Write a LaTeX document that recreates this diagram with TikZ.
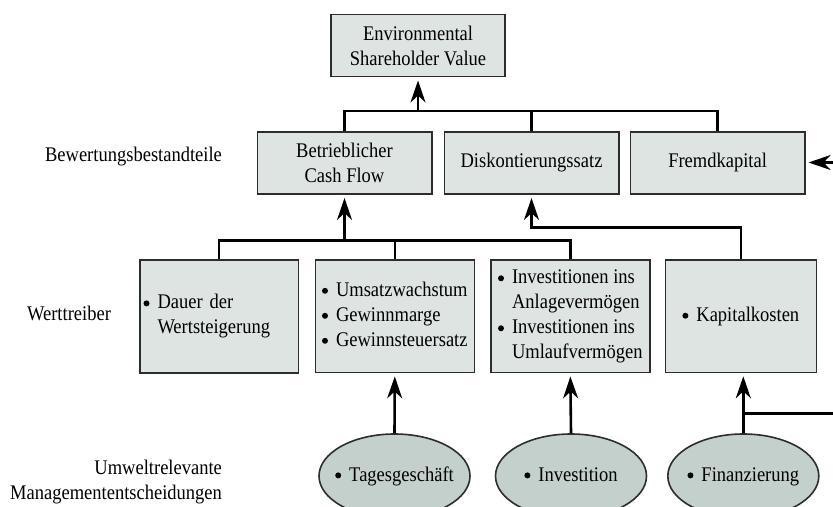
\documentclass[tikz,border=0pt]{standalone}
\usepackage{fontspec}
\setmainfont{Liberation Serif}[FakeStretch=0.89]
\usetikzlibrary{arrows.meta,shapes.geometric}
\definecolor{boxfill}{RGB}{222,228,225}
\definecolor{ovalfill}{RGB}{195,208,204}
\definecolor{boxedge}{RGB}{45,45,45}
\newcommand{\bul}{\tikz[baseline=-2.8pt]\fill (0,0) circle (1.5pt);}
\newcommand{\bulletlist}[1]{\begin{tabular}{@{}l@{\hspace{4pt}}l@{}}#1\end{tabular}}
\begin{document}
\begin{tikzpicture}[x=0.5pt,y=-0.5pt,font=\fontsize{10.4}{12.5}\selectfont,
    valuebox/.style={rectangle,draw=boxedge,line width=0.8pt,fill=boxfill,inner sep=1.9pt,align=center},
    rowtwo/.style={valuebox,minimum width=87.2pt,minimum height=31.2pt},
    driverbox/.style={valuebox,minimum width=79.5pt,minimum height=56.2pt},
    decisionoval/.style={ellipse,draw=boxedge,line width=0.8pt,fill=ovalfill,inner sep=0pt,minimum width=75.5pt,minimum height=42pt},
    conn/.style={line width=1.3pt,black},
    connarrow/.style={conn,-{Stealth[length=11pt,width=7.5pt,inset=3.5pt]},shorten >=1.5pt}]
    \useasboundingbox (0,0) rectangle (833,507);

    % --- Top ---
    \node[valuebox,minimum width=87pt,minimum height=31pt] (esv) at (418,45.7) {Environmental\\Shareholder Value};

    % --- Row 1: Bewertungsbestandteile ---
    \node[anchor=east] (lblvalue) at (229,157) {Bewertungsbestandteile};
    \node[rowtwo] (bcf) at (344.5,163) {Betrieblicher\\Cash Flow};
    \node[rowtwo] (disk) at (531.5,163) {Diskontierungssatz};
    \node[rowtwo] (fremd) at (717.6,163) {Fremdkapital};

    % --- Row 2: Werttreiber ---
    \node[anchor=east] (lbldriver) at (118,313) {Werttreiber};
    \node[driverbox,minimum width=79.3pt,text width=75.5pt,align=left] (dauer) at (219,316.5)
      {\bulletlist{\bul & Dauer der\\ & Wertsteigerung}};
    \node[driverbox] (umsatz) at (394.8,316.4)
      {\bulletlist{\bul & Umsatzwachstum\\ \bul & Gewinnmarge\\ \bul & Gewinnsteuersatz}};
    \node[driverbox] (invest) at (570.3,316.4)
      {\bulletlist{\bul & Investitionen ins\\ & Anlagevermögen\\ \bul & Investitionen ins\\ & Umlaufvermögen}};
    \node[driverbox,minimum width=75.5pt] (kapital) at (740.8,316.3) {\bulletlist{\bul & Kapitalkosten}};

    % --- Row 3: Managemententscheidungen ---
    \node[anchor=east,align=right] (lbldecision) at (229,482) {Umweltrelevante\\Managemententscheidungen};
    \node[decisionoval] (tages) at (394.5,476) {\makebox[0pt]{\bulletlist{\bul & Tagesgeschäft}}};
    \node[decisionoval] (invn) at (571,476) {\makebox[0pt]{\bulletlist{\bul & Investition}}};
    \node[decisionoval] (finanz) at (743.3,476) {\makebox[0pt]{\bulletlist{\bul & Finanzierung}}};

    % --- Connectors ---
    \draw[conn] (bcf.north) -- ++(0,-20) -| (fremd.north);
    \draw[conn] (disk.north) -- ++(0,-20);
    \draw[connarrow] (esv.south |- disk.north) ++(0,-20) -- (esv.south);

    \draw[conn] (dauer.north) -- ++(0,-19) -| (invest.north);
    \draw[conn] (umsatz.north) -- ++(0,-19);
    \draw[connarrow] (bcf.south |- umsatz.north) ++(0,-19) -- (bcf.south);

    \draw[connarrow] (kapital.north) -- ++(0,-31.5) -| (disk.south);

    \draw[connarrow] (tages.north) -- (umsatz.south);
    \draw[connarrow] (invn.north) -- (invest.south);
    \draw[connarrow] (finanz.north) -- (finanz.north |- kapital.south);

    % --- Right edge ---
    \coordinate (edgeA) at (834,413.5);
    \coordinate (edgeB) at (834,162.5);
    \draw[conn] (finanz.north |- edgeA) -- (edgeA);
    \draw[connarrow] (edgeB) -- (fremd.east |- edgeB);
\end{tikzpicture}
\end{document}
